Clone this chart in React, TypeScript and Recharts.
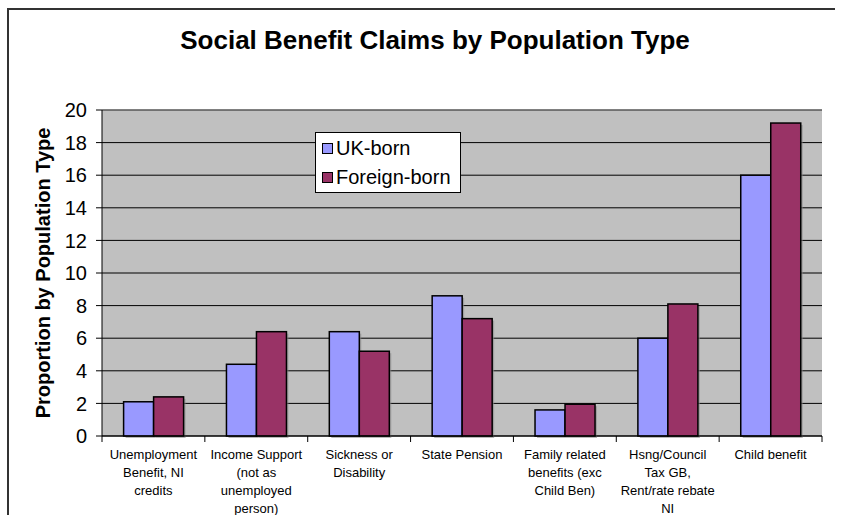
import {
  BarChart,
  Bar,
  XAxis,
  YAxis,
  CartesianGrid,
  Legend,
  ReferenceLine,
} from "recharts";

const categoryLines = [
  ["Unemployment", "Benefit, NI", "credits"],
  ["Income Support", "(not as", "unemployed", "person)"],
  ["Sickness or", "Disability"],
  ["State Pension"],
  ["Family related", "benefits (exc", "Child Ben)"],
  ["Hsng/Council", "Tax GB,", "Rent/rate rebate", "NI"],
  ["Child benefit"],
];
const ukBorn = [2.1, 4.4, 6.4, 8.6, 1.6, 6.0, 16.0];
const foreignBorn = [2.4, 6.4, 5.2, 7.2, 1.95, 8.1, 19.2];
const yTicks = [0, 2, 4, 6, 8, 10, 12, 14, 16, 18, 20];
const seriesNames = ["UK-born", "Foreign-born"];

const data = categoryLines.map((lines, i) => ({
  name: lines.join(" "),
  uk: ukBorn[i],
  foreign: foreignBorn[i],
}));

const FONT = "'Liberation Sans', Arial, sans-serif";

function ShadowBar(props: any) {
  const { x, y, width, height, fill } = props;
  if (!height || height <= 0) return null;
  return (
    <g>
      <rect x={x + 2} y={y + 2} width={width} height={height} fill="#8a8a8a" opacity={0.6} />
      <rect x={x} y={y} width={width} height={height} fill={fill} stroke="#000" strokeWidth={1.5} />
    </g>
  );
}

// category labels + tick marks at the category boundaries (half a band either side)
function CategoryTick(props: any) {
  const { x, y, index, payload } = props;
  const lines = categoryLines[index] || [];
  const half = payload && payload.offset ? payload.offset : 0;
  return (
    <g>
      <line x1={x - half} x2={x - half} y1={y} y2={y + 6} stroke="#000" />
      {index === categoryLines.length - 1 && (
        <line x1={x + half} x2={x + half} y1={y} y2={y + 6} stroke="#000" />
      )}
      <text x={x} y={y} textAnchor="middle" fontSize={13} fontFamily={FONT} fill="#000">
        {lines.map((l, i) => (
          <tspan key={i} x={x} dy={i === 0 ? 23 : 18}>
            {l}
          </tspan>
        ))}
      </text>
    </g>
  );
}

function LegendBox(props: any) {
  const items = ((props.payload || []) as any[])
    .slice()
    .sort((a, b) => seriesNames.indexOf(a.value) - seriesNames.indexOf(b.value));
  return (
    <div
      style={{
        width: 144,
        height: 58,
        background: "#fff",
        border: "1px solid #000",
        fontFamily: FONT,
        fontSize: 20,
        boxSizing: "content-box",
        paddingTop: 1,
      }}
    >
      {items.map((it, i) => (
        <div key={i} style={{ display: "flex", alignItems: "center", height: 29, paddingLeft: 6 }}>
          <span
            style={{
              display: "inline-block",
              width: 9,
              height: 9,
              background: it.color,
              border: "1.5px solid #000",
              marginRight: 3,
            }}
          />
          <span>{it.value}</span>
        </div>
      ))}
    </div>
  );
}

export default function App() {
  return (
    <div style={{ position: "absolute", left: 0, top: 0, width: 843, height: 515, background: "#fff", overflow: "hidden" }}>
      <div
        style={{
          position: "absolute",
          left: 7,
          top: 8,
          width: 826,
          height: 520,
          borderLeft: "2px solid #333",
          borderTop: "2px solid #333",
        }}
      />
      <div
        style={{
          position: "absolute",
          left: 0,
          width: 870,
          top: 25,
          textAlign: "center",
          fontFamily: FONT,
          fontWeight: "bold",
          fontSize: 26,
        }}
      >
        Social Benefit Claims by Population Type
      </div>
      <div style={{ position: "absolute", left: 0, top: 0 }}>
        <BarChart
          width={843}
          height={515}
          data={data}
          margin={{ top: 110, right: 21, left: 0, bottom: 0 }}
          barCategoryGap="21%"
          barGap={0}
        >
          <CartesianGrid vertical={false} stroke="#000" fill="#c0c0c0" fillOpacity={1} />
          <XAxis
            dataKey="name"
            height={79}
            interval={0}
            tick={<CategoryTick />}
            tickLine={false}
            tickSize={0}
            tickMargin={0}
            axisLine={{ stroke: "#000" }}
          />
          <YAxis
            width={102}
            domain={[0, 20]}
            ticks={yTicks}
            interval={0}
            tickSize={6}
            tickMargin={9}
            tick={{ fontSize: 20, fill: "#000", fontFamily: FONT }}
            tickLine={{ stroke: "#000" }}
            axisLine={{ stroke: "#000" }}
            label={{
              value: "Proportion by Population Type",
              angle: -90,
              position: "insideLeft",
              offset: 43,
              style: { fontSize: 20, fontWeight: "bold", fontFamily: FONT, fill: "#000", textAnchor: "middle" },
            }}
          />
          <YAxis
            yAxisId="r"
            orientation="right"
            width={0}
            domain={[0, 20]}
            tick={false}
            tickLine={false}
            axisLine={{ stroke: "#808080" }}
          />
          <ReferenceLine y={20} stroke="#808080" />
          <Legend
            layout="vertical"
            align="center"
            verticalAlign="middle"
            content={<LegendBox />}
            wrapperStyle={{ position: "absolute", left: 315, top: 132, width: 146 }}
          />
          <Bar dataKey="uk" name="UK-born" fill="#9999ff" shape={<ShadowBar />} isAnimationActive={false} />
          <Bar dataKey="foreign" name="Foreign-born" fill="#993366" shape={<ShadowBar />} isAnimationActive={false} />
        </BarChart>
      </div>
    </div>
  );
}
